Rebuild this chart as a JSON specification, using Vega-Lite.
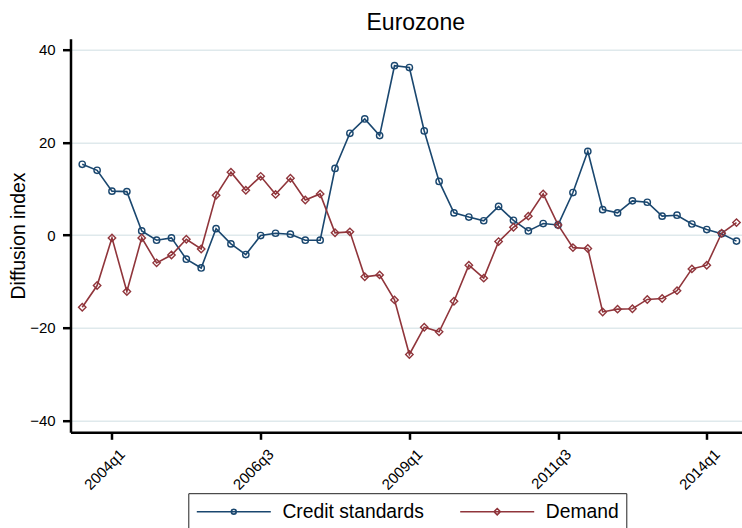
{
  "$schema": "https://vega.github.io/schema/vega-lite/v6.json",
  "width": 671.5,
  "height": 393.6,
  "autosize": {"type": "none"},
  "padding": {"left": 70.5, "top": 38.7, "right": 0, "bottom": 95.7},
  "background": "white",
  "config": {
    "view": {"stroke": null},
    "font": "Liberation Sans",
    "axis": {"labelFont": "Liberation Sans", "titleFont": "Liberation Sans", "labelColor": "#000", "titleColor": "#000", "domainColor": "#000", "tickColor": "#000", "domainWidth": 2.5, "tickWidth": 2.5, "labelFontSize": 15, "titleFontWeight": "normal"}
  },
  "title": {"text": "Eurozone", "fontSize": 23, "font": "Liberation Sans", "fontWeight": "normal", "color": "#000", "anchor": "middle", "frame": "group", "dx": 9.5, "offset": 9.4, "dy": 24, "baseline": "alphabetic"},
  "data": {"values": [
    {"quarter": "2003q3", "t": 174, "Credit standards": 15.3, "Demand": -15.6},
    {"quarter": "2003q4", "t": 175, "Credit standards": 14.0, "Demand": -10.9},
    {"quarter": "2004q1", "t": 176, "Credit standards": 9.5, "Demand": -0.6},
    {"quarter": "2004q2", "t": 177, "Credit standards": 9.4, "Demand": -12.2},
    {"quarter": "2004q3", "t": 178, "Credit standards": 0.9, "Demand": -0.6},
    {"quarter": "2004q4", "t": 179, "Credit standards": -1.1, "Demand": -6.0},
    {"quarter": "2005q1", "t": 180, "Credit standards": -0.6, "Demand": -4.3},
    {"quarter": "2005q2", "t": 181, "Credit standards": -5.2, "Demand": -0.9},
    {"quarter": "2005q3", "t": 182, "Credit standards": -7.1, "Demand": -3.0},
    {"quarter": "2005q4", "t": 183, "Credit standards": 1.4, "Demand": 8.6},
    {"quarter": "2006q1", "t": 184, "Credit standards": -1.9, "Demand": 13.6},
    {"quarter": "2006q2", "t": 185, "Credit standards": -4.2, "Demand": 9.7},
    {"quarter": "2006q3", "t": 186, "Credit standards": -0.1, "Demand": 12.7},
    {"quarter": "2006q4", "t": 187, "Credit standards": 0.4, "Demand": 8.8},
    {"quarter": "2007q1", "t": 188, "Credit standards": 0.2, "Demand": 12.3},
    {"quarter": "2007q2", "t": 189, "Credit standards": -1.1, "Demand": 7.6},
    {"quarter": "2007q3", "t": 190, "Credit standards": -1.1, "Demand": 8.9},
    {"quarter": "2007q4", "t": 191, "Credit standards": 14.4, "Demand": 0.5},
    {"quarter": "2008q1", "t": 192, "Credit standards": 22.0, "Demand": 0.7},
    {"quarter": "2008q2", "t": 193, "Credit standards": 25.1, "Demand": -9.0},
    {"quarter": "2008q3", "t": 194, "Credit standards": 21.5, "Demand": -8.6},
    {"quarter": "2008q4", "t": 195, "Credit standards": 36.6, "Demand": -14.0},
    {"quarter": "2009q1", "t": 196, "Credit standards": 36.2, "Demand": -25.8},
    {"quarter": "2009q2", "t": 197, "Credit standards": 22.5, "Demand": -19.9},
    {"quarter": "2009q3", "t": 198, "Credit standards": 11.6, "Demand": -20.9},
    {"quarter": "2009q4", "t": 199, "Credit standards": 4.8, "Demand": -14.3},
    {"quarter": "2010q1", "t": 200, "Credit standards": 3.9, "Demand": -6.5},
    {"quarter": "2010q2", "t": 201, "Credit standards": 3.1, "Demand": -9.3},
    {"quarter": "2010q3", "t": 202, "Credit standards": 6.2, "Demand": -1.4},
    {"quarter": "2010q4", "t": 203, "Credit standards": 3.2, "Demand": 1.7},
    {"quarter": "2011q1", "t": 204, "Credit standards": 0.9, "Demand": 4.1},
    {"quarter": "2011q2", "t": 205, "Credit standards": 2.5, "Demand": 8.9},
    {"quarter": "2011q3", "t": 206, "Credit standards": 2.2, "Demand": 2.2},
    {"quarter": "2011q4", "t": 207, "Credit standards": 9.2, "Demand": -2.7},
    {"quarter": "2012q1", "t": 208, "Credit standards": 18.1, "Demand": -2.9},
    {"quarter": "2012q2", "t": 209, "Credit standards": 5.5, "Demand": -16.6},
    {"quarter": "2012q3", "t": 210, "Credit standards": 4.8, "Demand": -16.0},
    {"quarter": "2012q4", "t": 211, "Credit standards": 7.4, "Demand": -15.9},
    {"quarter": "2013q1", "t": 212, "Credit standards": 7.1, "Demand": -13.9},
    {"quarter": "2013q2", "t": 213, "Credit standards": 4.1, "Demand": -13.7},
    {"quarter": "2013q3", "t": 214, "Credit standards": 4.3, "Demand": -12.0},
    {"quarter": "2013q4", "t": 215, "Credit standards": 2.4, "Demand": -7.3},
    {"quarter": "2014q1", "t": 216, "Credit standards": 1.2, "Demand": -6.5},
    {"quarter": "2014q2", "t": 217, "Credit standards": 0.3, "Demand": 0.4},
    {"quarter": "2014q3", "t": 218, "Credit standards": -1.3, "Demand": 2.7}
  ]},
  "transform": [{"fold": ["Credit standards", "Demand"], "as": ["series", "value"]}],
  "encoding": {
    "x": {"field": "t", "type": "quantitative", "scale": {"domain": [173.21, 218.37], "nice": false, "zero": false},
      "axis": {"title": null, "values": [176, 186, 196, 206, 216], "labelExpr": "(floor(datum.value/4)+1960) + 'q' + (datum.value%4+1)", "labelAngle": -45, "labelAlign": "right", "labelBaseline": "middle", "tickSize": 7, "labelPadding": 12, "labelOffset": 10, "grid": false, "labelFontSize": 15}},
    "y": {"field": "value", "type": "quantitative", "scale": {"domain": [-42.61, 42.44], "nice": false, "zero": false},
      "axis": {"title": "Diffusion index", "titleFontSize": 19.4, "titleAngle": -90, "titleX": -46.3, "titleY": 196.8, "titleAlign": "center", "titleBaseline": "alphabetic", "values": [-40, -20, 0, 20, 40], "tickSize": 8, "labelPadding": 7.3, "grid": true, "gridColor": "#dfe9ec", "gridWidth": 1.4, "labelFontSize": 15}},
    "color": {"field": "series", "type": "nominal", "scale": {"domain": ["Credit standards", "Demand"], "range": ["#1a476f", "#90353b"]},
      "legend": {"title": null, "orient": "none", "direction": "horizontal", "legendX": 117.8, "legendY": 454.5, "padding": 7.5, "strokeColor": "#222", "symbolSize": 5476, "symbolStrokeWidth": 1.6, "symbolFillColor": "transparent", "clipHeight": 22, "labelOffset": 10.6, "columnPadding": 34.4, "labelFontSize": 19.3, "labelFont": "Liberation Sans", "labelColor": "#000", "labelLimit": 400,
        "encode": {"symbols": {"update": {
          "shape": {"signal": "datum.value === 'Demand' ? 'M-1,0H1M0,-0.085L0.085,0L0,0.085L-0.085,0Z' : 'M-1,0H1M0.065,0A0.065,0.065,0,1,1,-0.065,0A0.065,0.065,0,1,1,0.065,0'"},
          "fill": {"value": "transparent"},
          "stroke": {"scale": "color", "field": "value"},
          "strokeWidth": {"value": 1.6},
          "size": {"value": 5476},
          "opacity": {"value": 1}
        }}}}}
  },
  "layer": [
    {"mark": {"type": "line", "strokeWidth": 1.6}},
    {"transform": [{"filter": "datum.series === 'Credit standards'"}],
      "mark": {"type": "point", "filled": false, "strokeWidth": 1.4, "opacity": 1, "shape": "circle", "size": 40}},
    {"transform": [{"filter": "datum.series === 'Demand'"}],
      "mark": {"type": "point", "filled": false, "strokeWidth": 1.4, "opacity": 1, "shape": "diamond", "size": 55}}
  ]
}
